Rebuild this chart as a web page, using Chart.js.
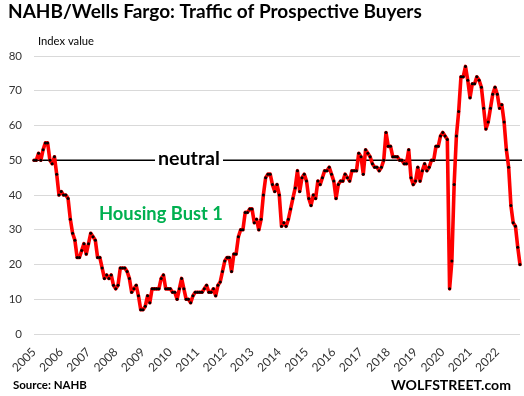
<!DOCTYPE html>
<html>
<head>
<meta charset="utf-8">
<script src="https://cdn.jsdelivr.net/npm/chart.js@4.4.0/dist/chart.umd.min.js"></script>
<style>
    html, body { margin: 0; padding: 0; background: #fff; }
    #wrap { width: 524px; height: 396px; }
</style>
</head>
<body>
<div id="wrap"><canvas id="chart" width="524" height="396"></canvas></div>
<script>
// x axis tick labels, one per January
const years = ['2005', '2006', '2007', '2008', '2009', '2010', '2011', '2012', '2013',
    '2014', '2015', '2016', '2017', '2018', '2019', '2020', '2021', '2022'];
const months = ['Jan', 'Feb', 'Mar', 'Apr', 'May', 'Jun', 'Jul', 'Aug', 'Sep', 'Oct', 'Nov', 'Dec'];

// NAHB/Wells Fargo traffic of prospective buyers, monthly, Jan 2005 - Nov 2022
const traffic = [
    50, 50, 52, 50, 53, 55, 55, 50, 49, 51, 46, 40,   // 2005
    41, 40, 40, 39, 33, 29, 27, 22, 22, 24, 26, 23,   // 2006
    26, 29, 28, 27, 22, 22, 19, 16, 17, 16, 17, 14,   // 2007
    13, 14, 19, 19, 19, 18, 16, 12, 13, 14, 11, 7,    // 2008
    7, 8, 11, 9, 13, 13, 13, 13, 16, 17, 13, 13,      // 2009
    13, 12, 12, 10, 13, 16, 13, 10, 10, 9, 11, 12,    // 2010
    12, 12, 12, 13, 14, 12, 12, 13, 11, 14, 15, 18,   // 2011
    21, 22, 22, 18, 23, 23, 28, 30, 30, 35, 35, 36,   // 2012
    36, 32, 33, 30, 33, 40, 45, 46, 46, 43, 41, 43,   // 2013
    40, 31, 32, 31, 33, 36, 39, 42, 47, 41, 45, 46,   // 2014
    44, 39, 37, 40, 39, 44, 43, 45, 47, 47, 48, 46,   // 2015
    44, 39, 43, 44, 44, 46, 45, 44, 47, 47, 47, 52,   // 2016
    51, 46, 53, 52, 51, 49, 48, 48, 47, 48, 50, 58,   // 2017
    54, 54, 51, 51, 51, 50, 50, 49, 49, 53, 45, 43,   // 2018
    44, 48, 44, 47, 49, 47, 48, 50, 50, 54, 54, 57,   // 2019
    58, 57, 56, 13, 21, 43, 57, 64, 74, 74, 77, 73,   // 2020
    68, 72, 72, 74, 73, 71, 65, 59, 61, 65, 69, 71,   // 2021
    69, 65, 66, 61, 53, 48, 37, 32, 31, 25, 20        // 2022
];

const yMin = 0, yMax = 80, yStep = 10;
const neutralLevel = 50;

const categories = years.flatMap(y => months.map(m => m + ' ' + y)).slice(0, traffic.length);

// draw text so that it spans a given width
function fitText(ctx, text, x, y, width, weight, family, color) {
    ctx.font = `${weight} 20px ${family}`;
    const size = 20 * width / ctx.measureText(text).width;
    ctx.font = `${weight} ${size.toFixed(2)}px ${family}`;
    ctx.fillStyle = color;
    ctx.textAlign = 'left';
    ctx.textBaseline = 'alphabetic';
    ctx.fillText(text, x, y);
}

const annotations = {
    id: 'annotations',
    beforeDatasetsDraw(chart) {
        const { ctx, chartArea, scales } = chart;
        const yy = scales.y.getPixelForValue(neutralLevel);
        ctx.save();
        ctx.strokeStyle = '#000';
        ctx.lineWidth = 1.6;
        ctx.beginPath();
        ctx.moveTo(chartArea.left, yy);
        ctx.lineTo(chartArea.right + 2, yy);
        ctx.stroke();
        // label sits on the neutral line
        ctx.fillStyle = '#fff';
        ctx.fillRect(155, yy - 8, 68, 13);
        fitText(ctx, 'neutral', 158, yy + 4.5, 62, 'bold', 'Lato', '#000');
        ctx.restore();
    },
    afterDraw(chart) {
        const { ctx } = chart;
        ctx.save();
        fitText(ctx, 'NAHB/Wells Fargo: Traffic of Prospective Buyers', 8, 18, 414, 'bold', 'Lato', '#000');
        fitText(ctx, 'Index value', 38, 45, 56, 'normal', 'Lato', '#000');
        fitText(ctx, 'Housing Bust 1', 99, 220, 124, 'bold', 'Lato', '#00b050');
        fitText(ctx, 'Source: NAHB', 13, 389, 74, 'bold', 'Lato', '#000');
        fitText(ctx, 'WOLFSTREET.com', 391, 390, 120, 'bold', 'Lato', '#000');
        ctx.restore();
    }
};

new Chart(document.getElementById('chart'), {
    type: 'line',
    data: {
        labels: categories,
        datasets: [{
            label: 'Traffic of Prospective Buyers',
            data: traffic,
            borderColor: '#ff0000',
            borderWidth: 3.6,
            borderJoinStyle: 'round',
            borderCapStyle: 'round',
            tension: 0,
            pointRadius: 1.5,
            pointBackgroundColor: '#000',
            pointBorderColor: '#000',
            pointBorderWidth: 0
        }]
    },
    options: {
        responsive: false,
        devicePixelRatio: 1,
        animation: false,
        layout: { padding: { top: 56, right: 4, bottom: 22, left: 0 } },
        plugins: {
            legend: { display: false },
            title: { display: false },
            tooltip: { enabled: false }
        },
        scales: {
            x: {
                grid: { display: false },
                border: { display: false },
                ticks: {
                    autoSkip: false,
                    minRotation: 45,
                    maxRotation: 45,
                    padding: 3,
                    color: '#333',
                    font: { family: 'Lato', size: 12 },
                    callback: (val, idx) => (idx % 12 === 0 ? years[idx / 12] : null)
                },
                afterFit: scale => { scale.height = 40; }
            },
            y: {
                min: yMin,
                max: yMax,
                grid: { color: '#d9d9d9', drawTicks: false },
                border: { display: false },
                ticks: {
                    stepSize: yStep,
                    padding: 12,
                    color: '#333',
                    font: { family: 'Lato', size: 11.5 }
                },
                afterFit: scale => { scale.width = 34; }
            }
        }
    },
    plugins: [annotations]
});
</script>
</body>
</html>
